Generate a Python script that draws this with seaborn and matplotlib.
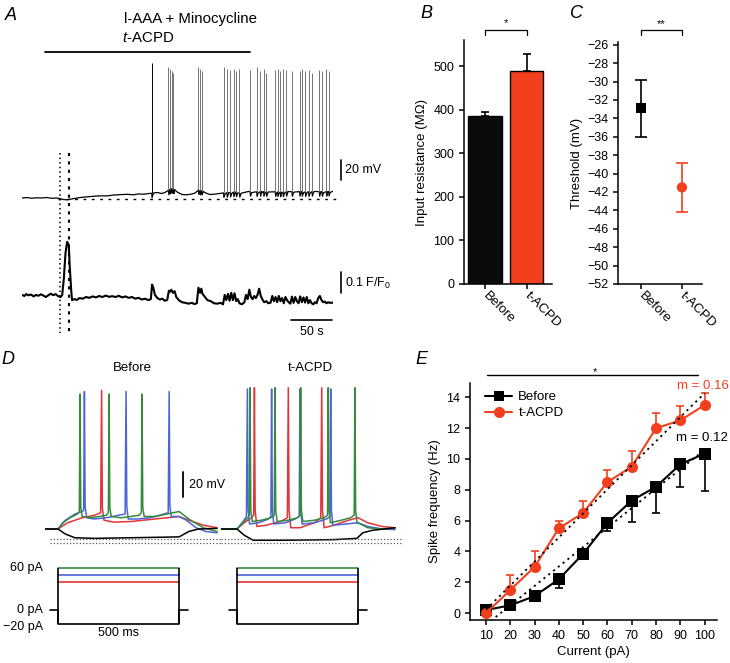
import numpy as np
import pandas as pd
import seaborn as sns
import matplotlib.pyplot as plt
from matplotlib.lines import Line2D

W, H = 730, 663
RED = '#f2401f'
D_COLS = {'red': '#e2343a', 'blue': '#4d64d8', 'green': '#368a3c', 'black': 'black'}

# ---------------- panel A (time in s) ----------------
drug_bar = [28, 278]
marker_t = [46, 57]
vm_t = [0, 6, 12, 18, 24, 30, 36, 42, 46, 50, 55, 60, 66, 72, 80, 88, 96, 104, 112, 120,
        128, 136, 142, 148, 154, 160, 165, 170, 174, 178, 182, 186, 190, 195, 200, 206, 211, 215, 219, 224,
        229, 234, 240, 245, 252, 260, 268, 276, 284, 292, 300, 308, 316, 324, 332, 340, 348, 356, 364, 372, 379]
vm_v = [-65, -64.6, -65.2, -64.8, -65, -64.5, -65.3, -65, -65.5, -66.5, -66.8, -66, -65.2, -64.4, -63.8, -63.2, -62.8, -62.9, -62, -61.6,
        -61.3, -61.8, -60.9, -61.2, -60.6, -60, -59.5, -60.5, -59.6, -57.5, -55.5, -56.5, -59.5, -61.5, -61.8, -61.2, -60, -57, -57.5, -60,
        -61.5, -61.2, -60.5, -60, -59.5, -59, -60, -58.5, -59, -58.5, -59, -58.8, -59.2, -58.5, -59, -58.6, -59, -58.4, -58.8, -58.5, -58.2]
spike_t = [158, 178.5, 180.6, 182.6, 184.6, 215, 217, 219, 245.6, 249.7, 253.8, 257.8, 261, 265,
           278, 286, 290.4, 294.4, 297.7, 308.7, 311.5, 314.8, 318.1, 322, 329,
           338.3, 341.2, 345.3, 349.3, 353.4, 362.3, 365.6, 370.9, 373.7]
spike_peak = [70, 66, 64, 62, 60, 66, 64, 62, 66, 64, 63, 64, 62, 64,
              63, 66, 62, 64, 60, 63, 64, 62, 64, 63, 62,
              62, 64, 62, 63, 60, 63, 62, 64, 62]
ca_trace = [(0, 1.0), (3, 0.995), (5, 1.004), (8, 0.998), (11, 1.002), (14, 0.993), (17, 1.0), (20, 0.996),
            (23, 1.003), (26, 0.997), (29, 0.99), (32, 0.998), (35, 1.006), (38, 0.999), (41, 1.004), (44, 0.994),
            (47, 0.99), (49, 1.0), (51, 1.08), (53, 1.2), (55, 1.255), (57, 1.24), (58, 1.15), (60, 1.02),
            (61, 0.975), (64, 0.98), (67, 0.976), (70, 0.985), (74, 0.982), (78, 0.99), (82, 0.986), (86, 0.993),
            (90, 0.988), (94, 0.995), (98, 0.99), (102, 0.997), (106, 0.991), (110, 0.994), (114, 0.99), (118, 0.996),
            (122, 0.988), (126, 0.993), (130, 0.986), (134, 0.99), (138, 0.982), (142, 0.986), (146, 0.978),
            (150, 0.982), (154, 0.975), (157, 0.98), (158.5, 1.05), (160, 1.035), (162, 1.0), (165, 0.985),
            (168, 0.978), (171, 0.982), (174, 0.972), (177, 0.976), (179, 1.02), (180.5, 1.015), (182, 1.025),
            (184, 1.01), (186, 1.018), (188, 0.99), (191, 0.975), (195, 0.965), (199, 0.962), (203, 0.958),
            (207, 0.962), (210, 0.956), (213, 0.96), (215, 1.035), (217, 1.01), (218.5, 1.03), (220, 1.005),
            (223, 0.99), (226, 0.975), (230, 0.97), (234, 0.96), (238, 0.958), (242, 0.962), (245, 0.955),
            (247, 1.0), (249, 0.975), (251, 1.005), (253, 0.972), (255, 1.01), (257, 0.975), (259, 1.008),
            (261, 0.97), (263, 0.98), (265, 0.96), (268, 0.955), (271, 0.965), (273, 1.0), (275, 0.98),
            (277, 1.025), (279, 0.99), (281, 0.98), (283, 0.995), (285, 0.985), (287, 1.0), (289, 1.03),
            (291, 0.995), (293, 0.978), (295, 0.965), (298, 0.97), (300, 0.96), (303, 0.963), (305, 0.995),
            (307, 0.97), (309, 0.99), (311, 0.965), (313, 0.995), (315, 0.97), (317, 0.985), (319, 0.96),
            (321, 0.99), (323, 0.975), (325, 0.965), (327, 0.958), (329, 0.992), (331, 0.962), (333, 0.99),
            (335, 0.97), (337, 0.96), (339, 0.993), (341, 0.965), (343, 0.988), (345, 0.963), (347, 0.99),
            (349, 0.96), (351, 0.975), (353, 0.96), (355, 0.955), (357, 0.965), (359, 0.96), (361, 0.985),
            (363, 0.995), (365, 0.975), (367, 0.965), (369, 0.968), (371, 0.96), (373, 0.965), (375, 0.962),
            (379, 0.963)]

# ---------------- panels B, C ----------------
groups = ['Before', 't-ACPD']
rin_mean = [385, 488]
rin_sem = [10, 41]
thr_mean = [-32.9, -41.5]
thr_sem = [3.1, 2.7]

# ---------------- panel D (time in ms, Vm in mV, current in pA) ----------------
step_levels = {'green': 60, 'blue': 50, 'red': 40, 'black': -20}
step_len = 500
before_red = [(-54, -65), (0, -65), (40, -60), (100, -56), (150, -54), (176, -52), (180, 46), (183, -48), (190, -58),
              (230, -59.5), (300, -59), (400, -57), (500, -55), (540, -58), (600, -62), (657, -64)]
before_blue = [(-54, -65), (0, -65), (30, -58), (70, -53), (100, -51), (106, -50), (109, 45), (112, -47), (118, -56),
               (150, -57), (200, -56), (250, -54), (277, -53), (281, 45), (284, -47), (290, -57), (330, -57),
               (380, -56), (420, -54), (455, -52), (459, 45), (462, -47), (468, -55), (500, -55), (530, -58),
               (570, -64), (610, -67), (657, -68)]
before_green = [(-54, -65), (0, -65), (20, -60), (50, -56), (80, -53), (88, -51), (91, 43), (94, -48), (100, -55),
                (130, -56), (170, -55), (200, -54), (208, -52), (211, 43), (214, -48), (220, -55), (260, -56),
                (300, -55), (335, -54), (344, -52), (347, 43), (350, -48), (356, -55), (400, -55), (450, -53),
                (500, -51), (540, -57), (600, -64), (657, -67)]
before_black = [(-54, -65), (0, -65), (30, -69), (70, -72), (150, -72.5), (300, -72), (450, -71.5), (500, -71.3),
                (540, -67), (580, -65), (657, -64.5)]
tacpd_red = [(-66, -65), (0, -65), (30, -60), (60, -56), (69, -54), (72, 48), (75, -50), (82, -63), (120, -62),
             (180, -59), (208, -56), (212, 48), (215, -50), (222, -64), (260, -64), (320, -60), (346, -56), (350, 48),
             (353, -50), (360, -64), (400, -62), (460, -58), (500, -56), (540, -60), (600, -63), (653, -64)]
tacpd_blue = [(-66, -65), (0, -65), (25, -59), (39, -55), (43, 47), (46, -50), (52, -61), (90, -60), (130, -57),
              (140, -55), (143, 47), (146, -50), (152, -61), (200, -60), (240, -57), (257, -55), (260, 47), (263, -50),
              (269, -61), (320, -60), (370, -57), (384, -55), (387, 47), (390, -50), (396, -62), (450, -61),
              (500, -60), (540, -63), (600, -65), (653, -65.5)]
tacpd_green = [(-66, -65), (0, -65), (25, -60), (45, -56), (51, -54), (54, 48), (57, -50), (63, -59), (100, -58),
               (140, -56), (154, -54), (157, 48), (160, -50), (166, -59), (210, -58), (250, -56), (260, -54), (263, 48),
               (266, -50), (272, -59), (320, -58), (360, -56), (374, -54), (377, 48), (380, -50), (386, -60),
               (430, -58), (470, -56), (484, -54), (487, 48), (490, -50), (496, -60), (510, -61), (540, -64),
               (600, -65), (653, -64)]
tacpd_black = [(-66, -65), (0, -65), (30, -70), (67, -74), (200, -74), (400, -73.5), (495, -72.5), (520, -68),
               (560, -66), (653, -64)]

# ---------------- panel E ----------------
current = [10, 20, 30, 40, 50, 60, 70, 80, 90, 100]
freq_before = [0.2, 0.5, 1.1, 2.2, 3.85, 5.85, 7.3, 8.2, 9.65, 10.35]
err_before = [0.05, 0.05, 0.1, 0.55, 0.25, 0.5, 1.4, 1.7, 1.5, 2.45]
freq_tacpd = [0.0, 1.5, 3.0, 5.5, 6.5, 8.5, 9.5, 12.0, 12.5, 13.5]
err_tacpd = [0.0, 1.0, 1.0, 0.5, 0.8, 0.8, 1.0, 1.0, 0.95, 0.8]

# ---------------- style ----------------
sns.set_style('ticks')
plt.rcParams['font.family'] = ['Liberation Sans', 'DejaVu Sans']
plt.rcParams.update({
    'mathtext.fontset': 'custom', 'mathtext.rm': 'Liberation Sans', 'mathtext.it': 'Liberation Sans:italic',
    'axes.linewidth': 1.1, 'axes.edgecolor': 'black', 'text.color': 'black', 'axes.labelcolor': 'black',
    'xtick.color': 'black', 'ytick.color': 'black', 'xtick.major.width': 1.1, 'ytick.major.width': 1.1,
    'xtick.major.size': 3.5, 'ytick.major.size': 3.5, 'xtick.labelsize': 9, 'ytick.labelsize': 9,
    'axes.labelsize': 9.5,
})

fig = plt.figure(figsize=(W / 100, H / 100), dpi=100)


def rect(x0, y0, x1, y1):
    # pixel box -> figure fraction
    return [x0 / W, 1 - y1 / H, (x1 - x0) / W, (y1 - y0) / H]


def ftext(x, y, s, **kw):
    kw.setdefault('va', 'center')
    fig.text(x / W, 1 - y / H, s, **kw)


# ---------------- A ----------------
ax_vm = fig.add_axes(rect(22, 55, 333, 205))
ax_ca = fig.add_axes(rect(22, 230, 333, 312))
ax_ov = fig.add_axes(rect(22, 0, 333, 340))
for a in (ax_vm, ax_ca, ax_ov):
    a.set_xlim(0, 379)
    a.axis('off')
ax_vm.set_ylim(-72, 78)
ax_ca.set_ylim(0.918, 1.312)
ax_ov.set_ylim(340, 0)

base_at_spk = np.interp(spike_t, vm_t, vm_v)
pts = list(zip(vm_t, vm_v))
for t, b in zip(spike_t, base_at_spk):
    pts += [(t, b), (t + 0.5, b - 4.5), (t + 1.8, b - 1)]
pts.sort()
ax_vm.plot([p[0] for p in pts], [p[1] for p in pts], color='k', lw=0.9)
spk_cols = ['k'] + ['0.45'] * (len(spike_t) - 1)
ax_vm.vlines(spike_t, base_at_spk, spike_peak, colors=spk_cols, lw=0.7)
ax_vm.plot([44, 384], [-66, -66], color='k', lw=1.0, ls=(0, (2, 4)), clip_on=False)
ax_vm.plot([389, 389], [-47, -27], color='k', lw=1.2, clip_on=False)

ca = np.array(ca_trace)
ax_ca.plot(ca[:, 0], ca[:, 1], color='k', lw=1.5)
ax_ca.plot([389, 389], [1.01, 1.11], color='k', lw=1.2, clip_on=False)
ax_ca.plot([328, 378], [0.88, 0.88], color='k', lw=1.2, clip_on=False)

ax_ov.plot(drug_bar, [52, 52], color='k', lw=1.3)
ax_ov.plot([marker_t[0]] * 2, [153, 333], color='k', lw=1.1, ls=(0, (1, 2)))
ax_ov.plot([marker_t[1]] * 2, [153, 333], color='k', lw=1.5, ls=(0, (1.5, 2.5)))

ftext(124, 19, 'l-AAA + Minocycline', fontsize=10.8)
ftext(122, 38, '$\\it{t}$-ACPD', fontsize=10.8)
ftext(345, 170, '20 mV', fontsize=9)
ftext(345, 283, '0.1 F/F$_0$', fontsize=9)
ftext(312, 332, '50 s', fontsize=9, ha='center')

# ---------------- B ----------------
ax_b = fig.add_axes(rect(464, 40, 552, 284))
sns.barplot(x=groups, y=rin_mean, hue=groups, palette=['#0b0b0b', RED], saturation=1, edgecolor='black',
            linewidth=1, width=0.8, legend=False, ax=ax_b)
ax_b.errorbar([0, 1], rin_mean, yerr=[[0, 0], rin_sem], fmt='none', ecolor='k', elinewidth=1.2, capsize=3,
              capthick=1.2)
ax_b.set_xlim(-0.5, 1.61)
ax_b.set_ylim(0, 560)
ax_b.set_yticks(range(0, 501, 100))
ax_b.set_ylabel('Input resistance (M\u03a9)', labelpad=4)
ax_b.plot([0, 0, 1, 1], [572, 584, 584, 572], color='k', lw=0.9, clip_on=False)
ax_b.text(0.5, 598, '*', ha='center', va='center', fontsize=8)

# ---------------- C ----------------
ax_c = fig.add_axes(rect(618, 42, 702, 284))
for i, col in enumerate(['black', RED]):
    ax_c.errorbar(i, thr_mean[i], yerr=thr_sem[i], fmt='none', ecolor=col, elinewidth=1.2, capsize=4,
                  capthick=1.2)
sns.scatterplot(x=[0, 1], y=thr_mean, hue=groups, style=groups, markers=['s', 'o'], palette=['black', RED],
                s=55, linewidth=0, legend=False, ax=ax_c, zorder=3)
ax_c.set_xlim(-0.56, 1.49)
ax_c.set_ylim(-52, -25.7)
ax_c.set_yticks(range(-52, -25, 2))
ax_c.set_ylabel('Threshold (mV)', labelpad=3)
ax_c.plot([0, 0, 1, 1], [-24.93, -24.4, -24.4, -24.93], color='k', lw=0.9, clip_on=False)
ax_c.text(0.5, -23.8, '**', ha='center', va='center', fontsize=8)

for a in (ax_b, ax_c):
    sns.despine(ax=a)
    a.set_xticks([0, 1])
    a.set_xticklabels(groups)
    a.set_xlabel('')
    plt.setp(a.get_xticklabels(), rotation=-45, ha='left', va='center', rotation_mode='anchor', fontsize=9.5)

# ---------------- D ----------------
traces = {'Before': [('red', before_red), ('blue', before_blue), ('green', before_green), ('black', before_black)],
          't-ACPD': [('red', tacpd_red), ('blue', tacpd_blue), ('green', tacpd_green), ('black', tacpd_black)]}
d_boxes = {'Before': (45, 221, (-53.7, 673)), 't-ACPD': (221, 403, (-66, 685.6))}
for cond, (x0, x1, xl) in d_boxes.items():
    ax_v = fig.add_axes(rect(x0, 380, x1, 548))
    ax_i = fig.add_axes(rect(x0, 555, x1, 632))
    for a in (ax_v, ax_i):
        a.set_xlim(*xl)
        a.axis('off')
    ax_v.set_ylim(-80.2, 54.2)
    ax_i.set_ylim(-31.4, 78.6)
    for name, tr in traces[cond]:
        tr = np.array(tr)
        ax_v.plot(tr[:, 0], tr[:, 1], color=D_COLS[name], lw=1.1)
    start = 0.03 if cond == 'Before' else 0
    for lvl in (-73, -76.2):
        ax_v.axhline(lvl, xmin=start, color='0.35', lw=0.9, ls=(0, (1, 1.6)))
    for name in ('green', 'blue', 'red'):
        ax_i.plot([0, step_len], [step_levels[name]] * 2, color=D_COLS[name], lw=1.2)
    lo = step_levels['black']
    ax_i.plot([-35, 0, 0, step_len, step_len, step_len + 35], [0, 0, lo, lo, 0, 0], color='k', lw=1.2)
    ax_i.vlines([0, step_len], lo, step_levels['green'], color='k', lw=1.2)
    if cond == 'Before':
        ax_v.plot([516, 516], [-39.4, -19.4], color='k', lw=1.3, clip_on=False)

ftext(132, 368, 'Before', ha='center', fontsize=9.5)
ftext(310, 368, 't-ACPD', ha='center', fontsize=9.5)
ftext(189, 485, '20 mV', fontsize=9)
ftext(43, 568, '60 pA', ha='right', fontsize=9)
ftext(43, 610, '0 pA', ha='right', fontsize=9)
ftext(43, 627, '\u221220 pA', ha='right', fontsize=9)
ftext(118, 633, '500 ms', ha='center', fontsize=9)

# ---------------- E ----------------
ax_e = fig.add_axes(rect(470, 383, 717, 620))
df_e = pd.DataFrame({'current': current * 2, 'freq': freq_before + freq_tacpd,
                     'cond': ['Before'] * len(current) + ['t-ACPD'] * len(current)})
ax_e.errorbar(current, freq_before, yerr=[err_before, [0] * len(current)], fmt='none', ecolor='k',
              elinewidth=1.2, capsize=3, capthick=1.2)
ax_e.errorbar(current, freq_tacpd, yerr=[[0] * len(current), err_tacpd], fmt='none', ecolor=RED,
              elinewidth=1.2, capsize=3, capthick=1.2)
sns.lineplot(data=df_e, x='current', y='freq', hue='cond', style='cond', markers={'Before': 's', 't-ACPD': 'o'},
             dashes=False, palette={'Before': 'black', 't-ACPD': RED}, markersize=8, lw=1.5,
             markeredgewidth=0, legend=False, ax=ax_e, zorder=3)
for yv in (freq_before, freq_tacpd):
    sns.regplot(x=current, y=yv, scatter=False, ci=None, ax=ax_e,
                line_kws=dict(color='k', lw=1.3, ls=(0, (1.2, 2.2)), zorder=4))
ax_e.set_xlim(3.4, 105.1)
ax_e.set_ylim(-0.45, 14.93)
ax_e.set_xticks(current)
ax_e.set_yticks(range(0, 15, 2))
ax_e.set_xlabel('Current (pA)', labelpad=3)
ax_e.set_ylabel('Spike frequency (Hz)', labelpad=4)
sns.despine(ax=ax_e)
handles = [Line2D([], [], color='k', marker='s', lw=1.5, ms=7, mew=0),
           Line2D([], [], color=RED, marker='o', lw=1.5, ms=8, mew=0)]
ax_e.legend(handles, groups, loc='upper left', bbox_to_anchor=(0.03, 1.0), frameon=False, fontsize=9.5,
            handlelength=2.0, handletextpad=0.5, labelspacing=0.3, borderaxespad=0.2)
ax_e.plot([10.4, 97.3], [15.42, 15.42], color='k', lw=1, clip_on=False)
ax_e.text(55, 15.65, '*', ha='center', va='center', fontsize=8)
ftext(729, 386, 'm = 0.16', color=RED, ha='right', fontsize=9.5)
ftext(728, 438, 'm = 0.12', ha='right', fontsize=9.5)

# panel letters
for x, y, s in [(5, 15, 'A'), (420, 13, 'B'), (570, 13, 'C'), (1, 360, 'D'), (415, 360, 'E')]:
    ftext(x, y, s, fontsize=13, style='italic')

fig.savefig('out.png', dpi=100)
